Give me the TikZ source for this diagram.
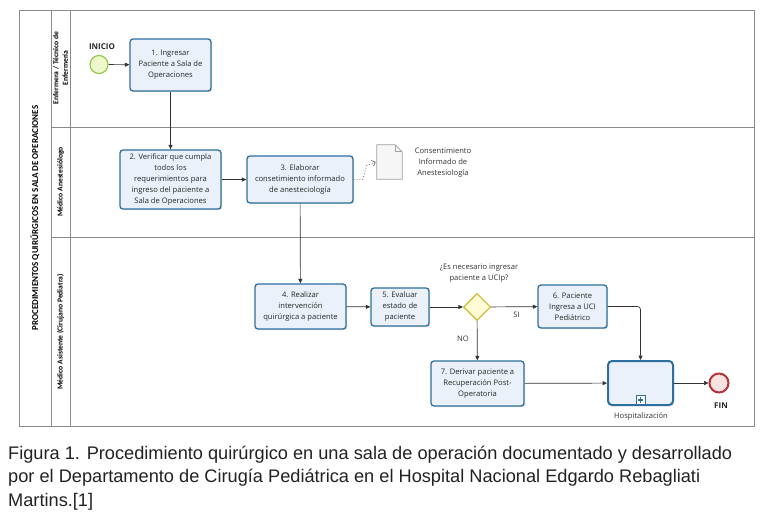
\documentclass[tikz,border=0pt]{standalone}
\usepackage{fontspec}
\setmainfont{Open Sans}
\newfontfamily\capfont{Liberation Sans}
\newfontfamily\lanefont{Carlito}
\usetikzlibrary{arrows.meta,shapes.geometric,shadows,calc}
\definecolor{laneline}{HTML}{8A8A8A}
\definecolor{taskborder}{HTML}{2E6F9E}
\definecolor{taskfill}{HTML}{EAF1FA}
\definecolor{startborder}{HTML}{8DC63F}
\definecolor{startfill}{HTML}{EFF8CC}
\definecolor{endborder}{HTML}{B8323A}
\definecolor{endfill}{HTML}{F8E1E1}
\definecolor{gateborder}{HTML}{CDBB2E}
\definecolor{gatefill}{HTML}{FFFBD6}
\definecolor{docborder}{HTML}{A0A0A0}
\definecolor{docfill}{HTML}{F6F6F6}
\definecolor{captext}{HTML}{222222}
\definecolor{flowcol}{HTML}{333333}
\tikzset{
  lanestyle/.style={draw=laneline, line width=0.8pt},
  taskbox/.style={draw=taskborder, line width=1.3pt, fill=taskfill, rounded corners=3pt,
    align=center, inner sep=1pt, font=\fontsize{7.6}{11}\selectfont, text=black!85,
    drop shadow={shadow xshift=1.2pt, shadow yshift=-1.2pt, opacity=0.25, fill=gray}},
  subbox/.style={draw=taskborder, line width=2pt, fill=taskfill, rounded corners=4pt,
    inner sep=0pt,
    drop shadow={shadow xshift=1.2pt, shadow yshift=-1.2pt, opacity=0.25, fill=gray}},
  startev/.style={circle, draw=startborder, line width=1.1pt, fill=startfill, minimum size=18pt, inner sep=0pt},
  endev/.style={circle, draw=endborder, line width=2pt, fill=endfill, minimum size=19pt, inner sep=0pt},
  gate/.style={diamond, draw=gateborder, line width=1.1pt, fill=gatefill, minimum width=27pt, minimum height=27pt, inner sep=0pt},
  flow/.style={draw=flowcol, line width=0.7pt, -{Triangle[length=4.5pt,width=4pt]}},
  assoc/.style={draw=gray, line width=0.9pt, dotted, -{Straight Barb[length=3pt,width=6pt]}},
  smalltxt/.style={font=\fontsize{7.6}{11}\selectfont, text=black!80, align=center, inner sep=0pt},
  boldlbl/.style={font=\bfseries\fontsize{8}{10}\selectfont, text=black!85, inner sep=0pt},
  lanelbl/.style={font=\lanefont\bfseries\fontsize{7.6}{9.5}\selectfont, rotate=90, align=center, inner sep=0pt},
  poollbl/.style={font=\lanefont\bfseries\fontsize{9}{11}\selectfont, rotate=90, inner sep=0pt},
  capline/.style={font=\capfont\fontsize{18.2}{22}\selectfont, text=captext, anchor=base west, inner sep=0pt}
}
\begin{document}
\begin{tikzpicture}[x=1pt,y=-1pt]
\path[use as bounding box, fill=white] (0,0) rectangle (768,529);
% pool and lanes
\draw[lanestyle] (19,10) rectangle (754,426);
\draw[lanestyle] (51,10) -- (51,426);
\draw[lanestyle] (70,10) -- (70,426);
\draw[lanestyle] (51,127) -- (754,127);
\draw[lanestyle] (51,237) -- (754,237);
\node[poollbl] (pool) at (35,218) {PROCEDIMIENTOS QUIRÚRGICOS EN SALA DE OPERACIONES};
\node[lanelbl] (lane1) at (60.5,68) {Enfermera / Técnico de\\Enfermería};
\node[lanelbl] (lane2) at (60.5,182) {Médico Anestesiólogo};
\node[lanelbl] (lane3) at (60.5,332) {Médico Asistente (Cirujano Pediatra)};
% events and tasks
\node[startev] (start) at (99,64.5) {};
\node[boldlbl] (startlbl) at (102,47) {INICIO};
\node[taskbox, minimum width=81pt, minimum height=52pt] (t1) at (170.5,65) {1. Ingresar\\Paciente a Sala de\\Operaciones};
\node[taskbox, minimum width=101pt, minimum height=59pt] (t2) at (170.5,179.5) {2. Verificar que cumpla\\todos los\\requerimientos para\\ingreso del paciente a\\Sala de Operaciones};
\node[taskbox, minimum width=106pt, minimum height=47pt] (t3) at (300,179.5) {3. Elaborar\\consetimiento informado\\de anesteciología};
\node[inner sep=0pt, minimum width=25pt, minimum height=34pt] (doc) at (389.5,162) {};
\filldraw[draw=docborder, fill=docfill, line width=0.7pt]
  (doc.north west) -- ($(doc.north east)+(-7,0)$) -- ($(doc.north east)+(0,7)$) -- (doc.south east) -- (doc.south west) -- cycle;
\draw[docborder, line width=0.7pt] ($(doc.north east)+(-7,0)$) -- ($(doc.north east)+(-7,7)$) -- ($(doc.north east)+(0,7)$);
\node[smalltxt] (doclbl) at (443,163) {Consentimiento\\Informado de\\Anestesiología};
\node[taskbox, minimum width=91pt, minimum height=45pt] (t4) at (300.5,306.5) {4. Realizar\\intervención\\quirúrgica a paciente};
\node[taskbox, minimum width=58pt, minimum height=38pt] (t5) at (400,307) {5. Evaluar\\estado de\\paciente};
\node[gate] (g) at (477,307) {};
\node[smalltxt] (glbl) at (479,273) {¿Es necesario ingresar\\paciente a UCIp?};
\node[taskbox, minimum width=69pt, minimum height=43pt] (t6) at (572.5,306.5) {6. Paciente\\Ingresa a UCI\\Pediátrico};
\node[taskbox, minimum width=93pt, minimum height=45pt] (t7) at (477.5,383.5) {7. Derivar paciente a\\Recuperación Post-\\Operatoria};
\node[subbox, minimum width=65pt, minimum height=44pt] (hosp) at (640.5,383) {};
\node[draw=taskborder, line width=0.9pt, fill=white, minimum size=9pt, inner sep=0pt] (plus) at ($(hosp.south)+(0,-6)$) {};
\draw[taskborder, line width=1.2pt] ($(plus.center)+(-2.6,0)$) -- ($(plus.center)+(2.6,0)$) ($(plus.center)+(0,-2.6)$) -- ($(plus.center)+(0,2.6)$);
\node[smalltxt] (hosplbl) at (641,416) {Hospitalización};
\node[endev] (end) at (719,383) {};
\node[boldlbl] (endlbl) at (721,406) {FIN};
% flows
\draw[flow] (start) -- (t1);
\draw[flow] (t1) -- (t2);
\draw[flow] (t2) -- (t3);
\draw[assoc] (t3.east) -- ++(9,0) -- ++(4,-14) -- ($(doc.west)+(-1,0)$);
\draw[flow] (t3) -- (t4);
\draw[flow] (t4) -- (t5);
\draw[flow] (t5) -- (g);
\draw[flow] (g) -- node[smalltxt, pos=0.55, below=5pt] (si) {SI} (t6);
\draw[flow] (g) -- node[smalltxt, pos=0.45, left=8pt] (no) {NO} (t7);
\draw[flow, rounded corners=3pt] (t6.east) -| (hosp.north);
\draw[flow] (t7) -- (hosp);
\draw[flow] (hosp) -- (end);
% caption
\node[capline] (cap1) at (8,459) {Figura 1. Procedimiento quirúrgico en una sala de operación documentado y desarrollado};
\node[capline] (cap2) at (8,482.5) {por el Departamento de Cirugía Pediátrica en el Hospital Nacional Edgardo Rebagliati};
\node[capline] (cap3) at (8,506) {Martins.[1]};
\end{tikzpicture}
\end{document}
